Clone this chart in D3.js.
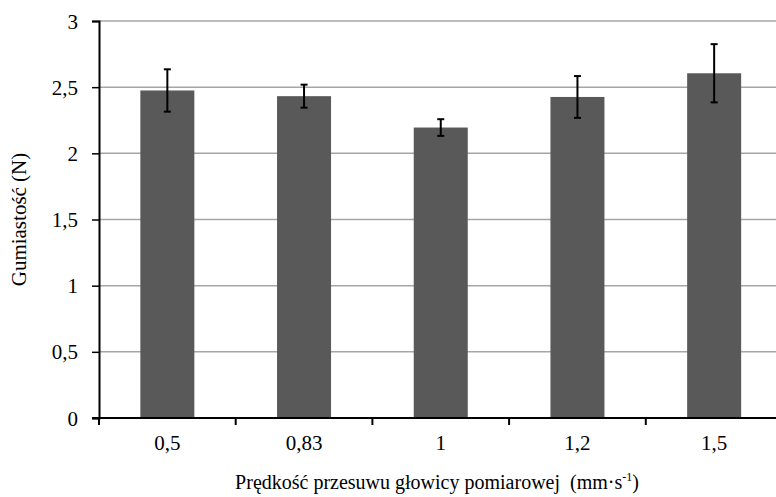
<!DOCTYPE html>
<html>
<head>
<meta charset="utf-8">
<script src="https://cdn.jsdelivr.net/npm/d3@7"></script>
<style>
  body { margin: 0; background: #fff; }
</style>
</head>
<body>
<div id="chart-container"></div>
<script>
const categories = ["0,5", "0,83", "1", "1,2", "1,5"];
const values = [2.475, 2.432, 2.195, 2.426, 2.605];
const errors = [0.16, 0.087, 0.063, 0.158, 0.22];
const yTicks = [0, 0.5, 1, 1.5, 2, 2.5, 3];

function drawChart() {
    const width = 776, height = 497;
    const left = 99, top = 21, plotBottom = 418;
    const step = 136.7;
    const fontSize = "21px";
    const serif = "'Liberation Serif'";

    const svg = d3.select("#chart-container")
        .append("svg")
        .attr("width", width)
        .attr("height", height);

    const x = d3.scaleBand()
        .domain(categories)
        .range([left, left + step * categories.length])
        .paddingInner(0.605)
        .paddingOuter(0.3025);

    const y = d3.scaleLinear().domain([0, 3]).range([plotBottom, top]);

    // gridlines
    svg.append("g")
        .selectAll("line")
        .data(yTicks.filter(d => d > 0))
        .join("line")
        .attr("x1", left)
        .attr("x2", width)
        .attr("y1", d => y(d))
        .attr("y2", d => y(d))
        .attr("stroke", "#a6a6a6")
        .attr("stroke-width", 1.5);

    // bars
    svg.append("g")
        .selectAll("rect")
        .data(values)
        .join("rect")
        .attr("x", (d, i) => x(categories[i]))
        .attr("y", d => y(d))
        .attr("width", x.bandwidth())
        .attr("height", d => y(0) - y(d))
        .attr("fill", "#595959");

    // error bars
    const eb = svg.append("g")
        .attr("stroke", "#000")
        .attr("stroke-width", 2);
    values.forEach((v, i) => {
        const cx = x(categories[i]) + x.bandwidth() / 2;
        eb.append("line")
            .attr("x1", cx).attr("x2", cx)
            .attr("y1", y(v + errors[i])).attr("y2", y(v - errors[i]));
        [v + errors[i], v - errors[i]].forEach(e => {
            eb.append("line")
                .attr("x1", cx - 3.5).attr("x2", cx + 3.5)
                .attr("y1", y(e)).attr("y2", y(e));
        });
    });

    // y axis
    const yAxis = svg.append("g")
        .attr("transform", `translate(${left},0)`)
        .call(d3.axisLeft(y).tickValues(yTicks)
            .tickFormat(d => String(d).replace(".", ","))
            .tickSize(7).tickPadding(14));
    yAxis.select(".domain").attr("stroke", "#000").attr("stroke-width", 2);
    yAxis.selectAll(".tick line").attr("stroke", "#000").attr("stroke-width", 1.5);
    yAxis.selectAll("text")
        .style("font-family", serif)
        .style("font-size", fontSize)
        .attr("fill", "#000")
        .attr("dy", "0.34em");

    // x axis
    const xTickPos = categories.map((c, i) => left + step * i);
    const xAxis = svg.append("g").attr("transform", `translate(0,${plotBottom})`);
    xAxis.append("line")
        .attr("x1", left - 7).attr("x2", width)
        .attr("stroke", "#000").attr("stroke-width", 2);
    xAxis.selectAll(".xtick")
        .data(xTickPos)
        .join("line")
        .attr("x1", d => d).attr("x2", d => d)
        .attr("y1", 0).attr("y2", 7)
        .attr("stroke", "#000").attr("stroke-width", 2);
    xAxis.selectAll(".xlabel")
        .data(categories)
        .join("text")
        .attr("x", d => x(d) + x.bandwidth() / 2)
        .attr("y", 32)
        .attr("text-anchor", "middle")
        .style("font-family", serif)
        .style("font-size", fontSize)
        .text(d => d);

    // axis titles
    svg.append("text")
        .attr("transform", `translate(26,${(top + plotBottom) / 2}) rotate(-90)`)
        .attr("text-anchor", "middle")
        .style("font-family", serif)
        .style("font-size", fontSize)
        .text("Gumiastość (N)");

    const title = svg.append("text")
        .attr("x", 437)
        .attr("y", 489)
        .attr("text-anchor", "middle")
        .style("font-family", serif)
        .style("font-size", "20px")
        .style("white-space", "pre");
    title.append("tspan").text("Prędkość przesuwu głowicy pomiarowej  (mm·s");
    title.append("tspan").attr("dy", -8).style("font-size", "12px").text("-1");
    title.append("tspan").attr("dy", 8).text(")");
}

document.addEventListener('DOMContentLoaded', drawChart);
</script>
</body>
</html>
